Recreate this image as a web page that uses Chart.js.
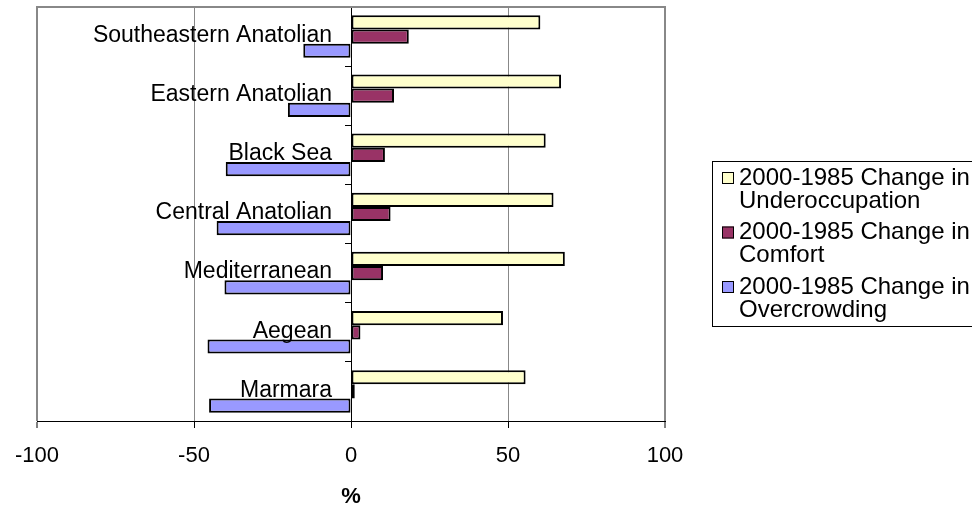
<!DOCTYPE html>
<html>
<head>
<meta charset="utf-8">
<script src="https://cdn.jsdelivr.net/npm/chart.js@4/dist/chart.umd.min.js"></script>
<style>
  html, body { margin: 0; padding: 0; background: #fff; }
  canvas { display: block; }
</style>
</head>
<body>
<canvas id="chart" width="972" height="508"></canvas>
<script>
// Regional housing indicators, change between 1985 and 2000 (%)
const regions = ['Southeastern Anatolian', 'Eastern Anatolian', 'Black Sea', 'Central Anatolian', 'Mediterranean', 'Aegean', 'Marmara'];
const underoccupation = [60.3, 66.9, 62.0, 64.5, 68.1, 48.4, 55.6];
const comfort = [18.4, 13.7, 10.8, 12.6, 10.2, 3.0, 1.2];
const overcrowding = [-15.2, -20.1, -39.9, -42.8, -40.3, -45.7, -45.2];
const seriesNames = ['2000-1985 Change in Underoccupation', '2000-1985 Change in Comfort', '2000-1985 Change in Overcrowding'];
const seriesColors = ['#FFFFCC', '#993366', '#9999FF'];
const xTicks = [-100, -50, 0, 50, 100];
const axisTitle = '%';

const FONT = '"Liberation Sans", Arial, Helvetica, sans-serif';

// Grey frame along the top edge of the plot area
const frameTop = {
  id: 'frameTop',
  beforeDatasetsDraw(chart) {
    const { ctx, chartArea: a } = chart;
    ctx.save();
    ctx.strokeStyle = '#888888';
    ctx.lineWidth = 2;
    ctx.beginPath();
    ctx.moveTo(a.left - 1, a.top);
    ctx.lineTo(a.right + 1, a.top);
    ctx.stroke();
    ctx.restore();
  }
};

// Region names, right-aligned just left of the zero line
const categoryLabels = {
  id: 'categoryLabels',
  afterDatasetsDraw(chart) {
    const { ctx } = chart;
    const xs = chart.scales.x, ys = chart.scales.y;
    const x0 = xs.getPixelForValue(0) - 19;
    ctx.save();
    ctx.font = '23px ' + FONT;
    ctx.fillStyle = '#000';
    ctx.textAlign = 'right';
    ctx.textBaseline = 'middle';
    chart.data.labels.forEach((lab, i) => {
      ctx.fillText(lab, x0, ys.getPixelForValue(i) - 1);
    });
    ctx.restore();
  }
};

// Boxed legend with wrapped series names
const sideLegend = {
  id: 'sideLegend',
  afterDraw(chart) {
    const { ctx } = chart;
    const box = { left: 712, top: 161, bottom: 326, right: 990 };
    ctx.save();
    ctx.strokeStyle = '#000';
    ctx.lineWidth = 1;
    ctx.strokeRect(box.left + 0.5, box.top + 0.5, box.right - box.left, box.bottom - box.top);
    ctx.font = '24px ' + FONT;
    ctx.textBaseline = 'middle';
    ctx.textAlign = 'left';
    const lineH = 23, itemH = 54.5;
    chart.data.datasets.forEach((ds, i) => {
      const words = ds.label.split(' ');
      const first = words.slice(0, -1).join(' ');
      const second = words[words.length - 1];
      const y = 178 + i * itemH;
      ctx.fillStyle = ds.backgroundColor;
      ctx.fillRect(722, y - 6, 12, 12);
      ctx.strokeStyle = '#000';
      ctx.strokeRect(722.5, y - 5.5, 11, 11);
      ctx.fillStyle = '#000';
      ctx.fillText(first, 739, y);
      ctx.fillText(second, 739, y + lineH);
    });
    ctx.restore();
  }
};

const datasets = [underoccupation, comfort, overcrowding].map((vals, i) => ({
  label: seriesNames[i],
  data: vals,
  backgroundColor: seriesColors[i],
  borderColor: '#000',
  borderWidth: 2,
  borderSkipped: false,
  categoryPercentage: 0.72,
  barPercentage: 1.0
}));

new Chart(document.getElementById('chart'), {
  type: 'bar',
  data: { labels: regions, datasets },
  plugins: [frameTop, categoryLabels, sideLegend],
  options: {
    indexAxis: 'y',
    responsive: false,
    animation: false,
    events: [],
    layout: { padding: { left: 34, right: 307, top: 7, bottom: 0 } },
    plugins: {
      legend: { display: false },
      tooltip: { enabled: false }
    },
    scales: {
      x: {
        type: 'linear',
        position: 'bottom',
        min: xTicks[0],
        max: xTicks[xTicks.length - 1],
        afterBuildTicks(scale) { scale.ticks = xTicks.map(v => ({ value: v })); },
        afterFit(scale) { scale.height = 87; },
        grid: {
          color: '#888888',
          lineWidth: c => (Math.abs(c.tick && c.tick.value) === 100 ? 2 : 1),
          tickColor: '#000',
          tickWidth: 1,
          tickLength: 7,
          drawTicks: true
        },
        border: { display: true, color: '#000', width: 1 },
        ticks: {
          color: '#000',
          padding: 15,
          font: { family: FONT, size: 22 }
        },
        title: {
          display: true,
          text: axisTitle,
          color: '#000',
          font: { family: FONT, size: 22, weight: 'bold', lineHeight: 1 },
          padding: { top: 0, bottom: 0 }
        }
      },
      y: {
        type: 'category',
        position: { x: 0 },
        grid: {
          offset: true,
          drawOnChartArea: false,
          drawTicks: true,
          tickLength: 6,
          tickColor: '#000'
        },
        border: { display: true, color: '#000', width: 1 },
        ticks: { display: false }
      }
    }
  }
});
</script>
</body>
</html>
